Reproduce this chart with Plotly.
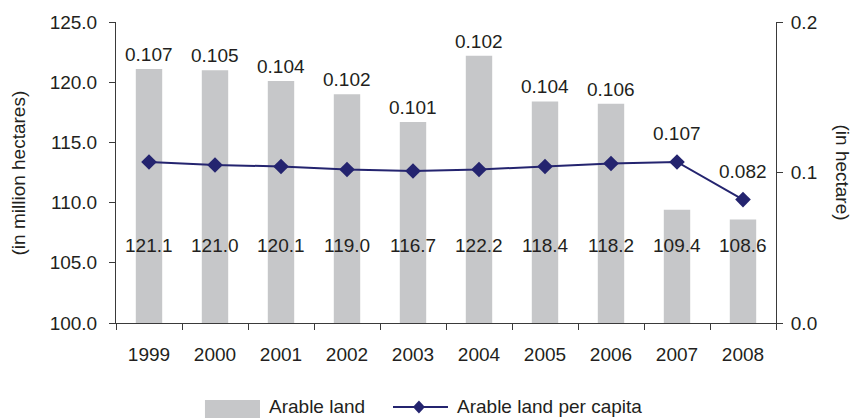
import plotly.graph_objects as go

# Arable land (million hectares) and arable land per capita (hectare), 1999-2008
years = ["1999", "2000", "2001", "2002", "2003", "2004", "2005", "2006", "2007", "2008"]
arable_land = [121.1, 121.0, 120.1, 119.0, 116.7, 122.2, 118.4, 118.2, 109.4, 108.6]
per_capita = [0.107, 0.105, 0.104, 0.102, 0.101, 0.102, 0.104, 0.106, 0.107, 0.082]
# where each per-capita label sits: above the bar or above the line point
per_capita_label_anchor = ["bar"] * 8 + ["point", "point"]

left_ticks = [100, 105, 110, 115, 120, 125]
right_ticks = [0.0, 0.1, 0.2]

FONT = "Liberation Sans, Arial, Helvetica, sans-serif"
TXT = "#231f20"
AXIS = "#3a3a3a"
BAR = "#c6c7c9"
LINE = "#24246f"
FS = 19

fig = go.Figure()

fig.add_trace(go.Bar(
    x=years, y=arable_land, name="Arable land",
    marker=dict(color=BAR, line=dict(width=0)),
    showlegend=False, hoverinfo="x+y",
))

fig.add_trace(go.Scatter(
    x=years, y=per_capita, name="Arable land per capita", yaxis="y2",
    mode="lines+markers",
    line=dict(color=LINE, width=2),
    marker=dict(symbol="diamond", size=12, color=LINE),
    showlegend=False,
))

annotations = []
# arable land values written inside the bars (x given as category index)
for i, v in enumerate(arable_land):
    annotations.append(dict(
        x=i, y=106.4, xref="x", yref="y", text=f"{v:.1f}", showarrow=False,
        font=dict(family=FONT, size=FS, color=TXT), yanchor="middle",
    ))
# per-capita values
for i, (v, h, anchor) in enumerate(zip(per_capita, arable_land, per_capita_label_anchor)):
    if anchor == "bar":
        annotations.append(dict(
            x=i, y=h, xref="x", yref="y", text=f"{v:.3f}", showarrow=False,
            font=dict(family=FONT, size=FS, color=TXT), yanchor="middle", yshift=14.5,
        ))
    else:
        annotations.append(dict(
            x=i, y=v, xref="x", yref="y2", text=f"{v:.3f}", showarrow=False,
            font=dict(family=FONT, size=FS, color=TXT), yanchor="middle", yshift=28,
        ))

# axis titles
annotations.append(dict(
    x=-0.147, y=0.5, xref="paper", yref="paper", text="(in million hectares)",
    textangle=-90, showarrow=False, font=dict(family=FONT, size=FS, color=TXT),
    xanchor="center", yanchor="middle",
))
annotations.append(dict(
    x=1.1, y=0.5, xref="paper", yref="paper", text="(in hectare)",
    textangle=90, showarrow=False, font=dict(family=FONT, size=FS, color=TXT),
    xanchor="center", yanchor="middle",
))

# legend, drawn below the plot
leg_y = -0.279
annotations.append(dict(
    x=0.2288, y=leg_y, xref="paper", yref="paper", text="Arable land",
    showarrow=False, font=dict(family=FONT, size=FS, color=TXT),
    xanchor="left", yanchor="middle",
))
annotations.append(dict(
    x=0.5136, y=leg_y, xref="paper", yref="paper", text="Arable land per capita",
    showarrow=False, font=dict(family=FONT, size=FS, color=TXT),
    xanchor="left", yanchor="middle",
))

dx, dy = 6 / 660, 6.5 / 301
cx = 0.459
shapes = [
    dict(type="rect", xref="paper", yref="paper", x0=0.1348, x1=0.2182,
         y0=leg_y + 0.0232, y1=-0.33, fillcolor=BAR, line=dict(width=0)),
    dict(type="line", xref="paper", yref="paper", x0=0.4197, x1=0.503,
         y0=leg_y, y1=leg_y, line=dict(color=LINE, width=2)),
    dict(type="path", xref="paper", yref="paper",
         path=f"M {cx},{leg_y + dy} L {cx + dx},{leg_y} L {cx},{leg_y - dy} L {cx - dx},{leg_y} Z",
         fillcolor=LINE, line=dict(width=0)),
]

tickfont = dict(family=FONT, size=FS, color=TXT)

fig.update_layout(
    width=855, height=418,
    margin=dict(l=116, r=79, t=22, b=95),
    paper_bgcolor="white", plot_bgcolor="white",
    bargap=0.6,
    showlegend=False,
    annotations=annotations,
    shapes=shapes,
    xaxis=dict(
        type="category", categoryorder="array", categoryarray=years,
        range=[-0.5, 9.5], showgrid=False, zeroline=False,
        showline=True, linecolor=AXIS, linewidth=1,
        ticks="outside", ticklen=6, tickcolor=AXIS, tickson="boundaries",
        tickfont=tickfont, ticklabelstandoff=14,
    ),
    xaxis2=dict(
        overlaying="x", anchor="y", range=[-0.5, 9.5],
        tickmode="array", tickvals=[i - 0.5 for i in range(11)],
        ticks="inside", ticklen=6, tickcolor=AXIS, showticklabels=False,
        showgrid=False, zeroline=False, showline=False,
    ),
    yaxis=dict(
        range=[100, 125], tickmode="array", tickvals=left_ticks, tickformat=".1f",
        showgrid=False, zeroline=False, showline=True, linecolor=AXIS, linewidth=1,
        ticks="outside", ticklen=6, tickcolor=AXIS, tickfont=tickfont,
        ticklabelstandoff=8,
    ),
    yaxis3=dict(
        overlaying="y", anchor="x", side="left", range=[100, 125],
        tickmode="array", tickvals=left_ticks, ticks="inside", ticklen=6,
        tickcolor=AXIS, showticklabels=False, showgrid=False, zeroline=False, showline=False,
    ),
    yaxis2=dict(
        overlaying="y", side="right", anchor="x", range=[0, 0.2],
        tickmode="array", tickvals=right_ticks, tickformat=".1f",
        showgrid=False, zeroline=False, showline=True, linecolor=AXIS, linewidth=1,
        ticks="outside", ticklen=6, tickcolor=AXIS, tickfont=tickfont,
        ticklabelstandoff=4,
    ),
    yaxis4=dict(
        overlaying="y", side="right", anchor="x", range=[0, 0.2],
        tickmode="array", tickvals=right_ticks, ticks="inside", ticklen=6,
        tickcolor=AXIS, showticklabels=False, showgrid=False, zeroline=False, showline=False,
    ),
)

fig.write_html("out.html")
